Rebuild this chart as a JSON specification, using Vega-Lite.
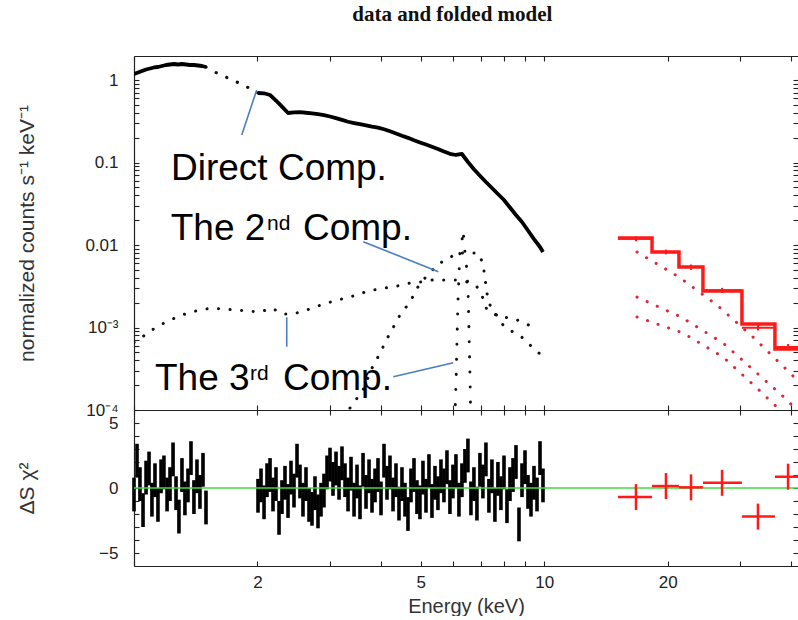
{
"$schema":"https://vega.github.io/schema/vega-lite/v6.json",
"background":"white",
"padding":{"left":16,"top":4,"right":0,"bottom":0},
"title":{"text":"data and folded model","font":"Liberation Serif","fontSize":21,"fontWeight":"bold","color":"#111111","anchor":"middle","offset":30,"dx":45},
"spacing":0,
"bounds":"flush",
"config":{"view":{"stroke":null},"axis":{"grid":false,"domainColor":"#222222","domainWidth":1.2,"tickColor":"#222222","tickWidth":1.1,"labelFont":"Liberation Sans","labelFontSize":17,"labelColor":"#222222","titleFont":"Liberation Sans","titleFontSize":21,"titleFontWeight":"normal","titleColor":"#333333","labelFlush":false,"labelOverlap":false}},
"datasets":{
"spec":[
{"E":1.0,"V":1.182,"g":1},{"E":1.023,"V":1.233,"g":1},{"E":1.046,"V":1.286,"g":1},{"E":1.070,"V":1.341,"g":1},{"E":1.094,"V":1.379,"g":1},{"E":1.119,"V":1.418,"g":1},{"E":1.144,"V":1.437,"g":1},{"E":1.170,"V":1.478,"g":1},{"E":1.197,"V":1.520,"g":1},{"E":1.224,"V":1.541,"g":1},{"E":1.252,"V":1.563,"g":1},{"E":1.280,"V":1.541,"g":1},{"E":1.309,"V":1.563,"g":1},{"E":1.339,"V":1.541,"g":1},{"E":1.369,"V":1.520,"g":1},{"E":1.401,"V":1.520,"g":1},{"E":1.432,"V":1.499,"g":1},{"E":1.465,"V":1.478,"g":1},{"E":1.498,"V":1.437,"g":1},
{"E":2.006,"V":0.696,"g":2},{"E":2.075,"V":0.69,"g":2},{"E":2.146,"V":0.658,"g":2},{"E":2.219,"V":0.564,"g":2},{"E":2.295,"V":0.475,"g":2},{"E":2.374,"V":0.398,"g":2},{"E":2.455,"V":0.406,"g":2},{"E":2.539,"V":0.409,"g":2},{"E":2.626,"V":0.401,"g":2},{"E":2.716,"V":0.395,"g":2},{"E":2.809,"V":0.385,"g":2},{"E":2.905,"V":0.376,"g":2},{"E":3.005,"V":0.361,"g":2},{"E":3.108,"V":0.345,"g":2},{"E":3.214,"V":0.328,"g":2},{"E":3.325,"V":0.312,"g":2},{"E":3.439,"V":0.301,"g":2},{"E":3.556,"V":0.291,"g":2},{"E":3.678,"V":0.282,"g":2},{"E":3.804,"V":0.272,"g":2},{"E":3.934,"V":0.265,"g":2},{"E":4.069,"V":0.253,"g":2},{"E":4.208,"V":0.239,"g":2},{"E":4.352,"V":0.225,"g":2},{"E":4.501,"V":0.211,"g":2},{"E":4.655,"V":0.199,"g":2},{"E":4.815,"V":0.186,"g":2},{"E":4.979,"V":0.175,"g":2},{"E":5.150,"V":0.165,"g":2},{"E":5.326,"V":0.155,"g":2},{"E":5.508,"V":0.146,"g":2},{"E":5.697,"V":0.136,"g":2},{"E":5.892,"V":0.1275,"g":2},{"E":6.094,"V":0.1233,"g":2},{"E":6.302,"V":0.1268,"g":2},{"E":6.518,"V":0.1014,"g":2},{"E":6.741,"V":0.0829,"g":2},{"E":6.972,"V":0.0692,"g":2},{"E":7.211,"V":0.058,"g":2},{"E":7.458,"V":0.0491,"g":2},{"E":7.713,"V":0.0415,"g":2},{"E":7.980,"V":0.0351,"g":2},{"E":8.253,"V":0.0285,"g":2},{"E":8.536,"V":0.0231,"g":2},{"E":8.829,"V":0.019,"g":2},{"E":9.131,"V":0.015,"g":2},{"E":9.444,"V":0.0118,"g":2},{"E":9.768,"V":0.00946,"g":2},{"E":9.933,"V":0.00823,"g":2}
],
"gapmodel":[{"E":1.498,"V":1.437},{"E":1.593,"V":1.216},{"E":1.695,"V":1.057},{"E":1.803,"V":0.920},{"E":1.929,"V":0.778},{"E":2.006,"V":0.696}],
"compA":[{"E":1.0,"V":0.00066},{"E":1.064,"V":0.000811},{"E":1.125,"V":0.000986},{"E":1.197,"V":0.001167},{"E":1.273,"V":0.00134},{"E":1.354,"V":0.0015},{"E":1.448,"V":0.00163},{"E":1.549,"V":0.00172},{"E":1.657,"V":0.00167},{"E":1.773,"V":0.00163},{"E":1.896,"V":0.001585},{"E":2.028,"V":0.00154},{"E":2.17,"V":0.00172},{"E":2.296,"V":0.00146},{"E":2.441,"V":0.00146},{"E":2.597,"V":0.001585},{"E":2.762,"V":0.00177},{"E":2.954,"V":0.00198},{"E":3.144,"V":0.00216},{"E":3.362,"V":0.00234},{"E":3.596,"V":0.00262},{"E":3.825,"V":0.00285},{"E":4.091,"V":0.00301},{"E":4.377,"V":0.00318},{"E":4.709,"V":0.00346},{"E":4.98,"V":0.00356},{"E":5.357,"V":0.00377},{"E":5.73,"V":0.00377},{"E":6.13,"V":0.00377},{"E":6.48,"V":0.00356},{"E":6.86,"V":0.0031},{"E":7.09,"V":0.00228},{"E":7.25,"V":0.00163},{"E":7.8,"V":0.00134},{"E":8.35,"V":0.0013},{"E":8.83,"V":0.00117},{"E":9.45,"V":0.001}],
"compB":[{"E":3.25,"V":0.00008},{"E":3.362,"V":0.0001057},{"E":3.617,"V":0.000175},{"E":3.804,"V":0.000323},{"E":3.934,"V":0.000439},{"E":4.161,"V":0.000767},{"E":4.452,"V":0.00142},{"E":4.709,"V":0.00204},{"E":4.98,"V":0.00346},{"E":5.267,"V":0.00458},{"E":5.479,"V":0.00573},{"E":5.794,"V":0.00677},{"E":6.165,"V":0.008},{"E":6.594,"V":0.008},{"E":6.897,"V":0.008},{"E":7.09,"V":0.00605},{"E":7.17,"V":0.00398},{"E":7.25,"V":0.00262},{"E":7.38,"V":0.00187},{"E":7.94,"V":0.00107},{"E":8.39,"V":0.000882},{"E":8.88,"V":0.000746},{"E":9.34,"V":0.00058},{"E":9.82,"V":0.000465}],
"gauss":[{"E":6.04,"V":0.00005},{"E":6.10,"V":0.000231},{"E":6.13,"V":0.000705},{"E":6.165,"V":0.00216},{"E":6.23,"V":0.008},{"E":6.30,"V":0.01087},{"E":6.34,"V":0.0152},{"E":6.41,"V":0.008},{"E":6.48,"V":0.00498},{"E":6.52,"V":0.00285},{"E":6.556,"V":0.000933},{"E":6.594,"V":0.000251},{"E":6.63,"V":0.00005}],
"redcurves":[{"E":16.84,"V":0.00822,"c":1},{"E":21.31,"V":0.00409,"c":1},{"E":26.38,"V":0.00187,"c":1},{"E":32.28,"V":0.000767,"c":1},{"E":39.31,"V":0.000297,"c":1},{"E":43.2,"V":0.000185,"c":1},
{"E":16.84,"V":0.00234,"c":2},{"E":21.55,"V":0.00134,"c":2},{"E":27.29,"V":0.000649,"c":2},{"E":33.2,"V":0.000273,"c":2},{"E":38.6,"V":0.00014,"c":2},{"E":42.0,"V":0.000092,"c":2},
{"E":16.84,"V":0.00134,"c":3},{"E":21.8,"V":0.000858,"c":3},{"E":27.29,"V":0.000439,"c":3},{"E":33.4,"V":0.000175,"c":3},{"E":36.9,"V":0.000109,"c":3},{"E":39.7,"V":0.000076,"c":3}],
"redmodel":[{"E":15.13,"V":0.01216},{"E":18.32,"V":0.00822},{"E":21.31,"V":0.00541},{"E":24.38,"V":0.00277},{"E":30.35,"V":0.0011},{"E":36.52,"V":0.000548},{"E":44,"V":0.000548}],
"reddata":[{"E":16.74,"Elo":15.13,"Ehi":18.32,"V":0.0119,"Vlo":0.0111,"Vhi":0.0127},{"E":19.81,"Elo":18.32,"Ehi":21.31,"V":0.00825,"Vlo":0.0077,"Vhi":0.0088},{"E":22.8,"Elo":21.31,"Ehi":24.38,"V":0.00542,"Vlo":0.005,"Vhi":0.0058},{"E":27.14,"Elo":24.38,"Ehi":30.35,"V":0.00282,"Vlo":0.00262,"Vhi":0.00302},{"E":33.2,"Elo":30.35,"Ehi":36.52,"V":0.00099,"Vlo":0.00092,"Vhi":0.00107},{"E":39.31,"Elo":36.52,"Ehi":44,"V":0.00058,"Vlo":0.00053,"Vhi":0.00063}],
"lines":[{"E":1.831,"V":0.2154,"E2":1.991,"V2":0.756},{"E":3.622,"V":0.01096,"E2":5.52,"V2":0.00475},{"E":2.357,"V":0.00133,"E2":2.357,"V2":0.000585},{"E":4.288,"V":0.000253,"E2":6.003,"V2":0.000374}],
"bigtext":[{"t":"Direct Comp.","E":1.231,"V":0.0614},{"t":"The 2","E":1.229,"V":0.0115},{"t":"Comp.","E":2.582,"V":0.0115},{"t":"The 3","E":1.125,"V":0.0001748},{"t":"Comp.","E":2.308,"V":0.0001748}],
"suptext":[{"t":"nd","E":2.11,"V":0.0152},{"t":"rd","E":1.918,"V":0.000231}],
"resid":[
{"E":1.000,"r":-0.5,"e":1.3},{"E":1.017,"r":2.1,"e":1.3},{"E":1.034,"r":0.3,"e":1.3},{"E":1.052,"r":-1.7,"e":1.3},{"E":1.070,"r":0.8,"e":1.3},{"E":1.088,"r":1.5,"e":1.3},{"E":1.106,"r":-0.9,"e":1.3},{"E":1.125,"r":0.6,"e":1.3},{"E":1.144,"r":-1.3,"e":1.3},{"E":1.164,"r":0.9,"e":1.3},{"E":1.183,"r":1.2,"e":1.3},{"E":1.204,"r":-0.5,"e":1.3},{"E":1.224,"r":0.3,"e":1.3},{"E":1.245,"r":2.2,"e":1.3},{"E":1.266,"r":-0.4,"e":1.3},{"E":1.287,"r":-2.2,"e":1.3},{"E":1.309,"r":1.0,"e":1.3},{"E":1.331,"r":-0.8,"e":1.3},{"E":1.354,"r":0.2,"e":1.3},{"E":1.377,"r":2.3,"e":1.3},{"E":1.400,"r":-0.7,"e":1.3},{"E":1.424,"r":0.9,"e":1.3},{"E":1.448,"r":-0.3,"e":1.3},{"E":1.473,"r":1.4,"e":1.3},{"E":1.498,"r":-1.5,"e":1.3},
{"E":2.006,"r":-0.6,"e":1.3},{"E":2.040,"r":0.2,"e":1.3},{"E":2.075,"r":-1.1,"e":1.3},{"E":2.110,"r":0.6,"e":1.3},{"E":2.146,"r":1.0,"e":1.3},{"E":2.182,"r":-0.5,"e":1.3},{"E":2.219,"r":0.3,"e":1.3},{"E":2.257,"r":-2.3,"e":1.3},{"E":2.295,"r":-0.7,"e":1.3},{"E":2.334,"r":0.4,"e":1.3},{"E":2.374,"r":-1.0,"e":1.3},{"E":2.414,"r":0.8,"e":1.3},{"E":2.455,"r":-0.2,"e":1.3},{"E":2.497,"r":2.1,"e":1.3},{"E":2.539,"r":0.5,"e":1.3},{"E":2.582,"r":-0.9,"e":1.3},{"E":2.626,"r":0.3,"e":1.3},{"E":2.671,"r":-1.3,"e":1.3},{"E":2.716,"r":-1.6,"e":1.3},{"E":2.762,"r":-0.4,"e":1.3},{"E":2.809,"r":-1.8,"e":1.3},{"E":2.857,"r":-0.9,"e":1.3},{"E":2.905,"r":-0.2,"e":1.3},{"E":2.955,"r":1.2,"e":1.3},{"E":3.005,"r":1.8,"e":1.3},{"E":3.056,"r":0.7,"e":1.3},{"E":3.108,"r":1.5,"e":1.3},{"E":3.161,"r":0.4,"e":1.3},{"E":3.214,"r":1.9,"e":1.3},{"E":3.269,"r":0.6,"e":1.3},{"E":3.325,"r":-0.5,"e":1.3},{"E":3.381,"r":1.1,"e":1.3},{"E":3.439,"r":-0.9,"e":1.3},{"E":3.497,"r":0.5,"e":1.3},{"E":3.556,"r":-1.1,"e":1.3},{"E":3.617,"r":1.4,"e":1.3},{"E":3.678,"r":-0.3,"e":1.3},{"E":3.741,"r":0.9,"e":1.3},{"E":3.804,"r":-0.6,"e":1.3},{"E":3.869,"r":0.2,"e":1.3},{"E":3.934,"r":1.0,"e":1.3},{"E":4.001,"r":-0.8,"e":1.3},{"E":4.069,"r":2.1,"e":1.3},{"E":4.138,"r":0.4,"e":1.3},{"E":4.208,"r":1.2,"e":1.3},{"E":4.280,"r":-0.5,"e":1.3},{"E":4.352,"r":0.6,"e":1.3},{"E":4.426,"r":-1.2,"e":1.3},{"E":4.501,"r":0.3,"e":1.3},{"E":4.578,"r":-0.9,"e":1.3},{"E":4.655,"r":-2.0,"e":1.3},{"E":4.734,"r":0.2,"e":1.3},{"E":4.815,"r":1.0,"e":1.3},{"E":4.896,"r":-0.7,"e":1.3},{"E":4.979,"r":-1.1,"e":1.3},{"E":5.064,"r":0.8,"e":1.3},{"E":5.150,"r":-0.6,"e":1.3},{"E":5.237,"r":1.3,"e":1.3},{"E":5.326,"r":-1.0,"e":1.3},{"E":5.417,"r":0.4,"e":1.3},{"E":5.508,"r":-0.4,"e":1.3},{"E":5.602,"r":0.9,"e":1.3},{"E":5.697,"r":0.2,"e":1.3},{"E":5.794,"r":1.6,"e":1.3},{"E":5.892,"r":-0.7,"e":1.3},{"E":5.992,"r":0.5,"e":1.3},{"E":6.094,"r":1.3,"e":1.3},{"E":6.197,"r":-0.9,"e":1.3},{"E":6.302,"r":0.6,"e":1.3},{"E":6.409,"r":1.7,"e":1.3},{"E":6.518,"r":2.5,"e":1.3},{"E":6.629,"r":-0.8,"e":1.3},{"E":6.741,"r":0.3,"e":1.3},{"E":6.856,"r":-1.2,"e":1.3},{"E":6.972,"r":1.4,"e":1.3},{"E":7.090,"r":0.5,"e":1.3},{"E":7.211,"r":2.2,"e":1.3},{"E":7.333,"r":-0.6,"e":1.3},{"E":7.458,"r":0.9,"e":1.3},{"E":7.584,"r":-1.3,"e":1.3},{"E":7.713,"r":0.7,"e":1.3},{"E":7.844,"r":-0.4,"e":1.3},{"E":7.980,"r":1.2,"e":1.3},{"E":8.115,"r":-1.4,"e":1.3},{"E":8.253,"r":0.3,"e":1.3},{"E":8.394,"r":1.0,"e":1.3},{"E":8.536,"r":2.0,"e":1.3},{"E":8.681,"r":-2.8,"e":1.3},{"E":8.829,"r":0.6,"e":1.3},{"E":8.979,"r":1.6,"e":1.3},{"E":9.131,"r":-0.3,"e":1.3},{"E":9.286,"r":-0.9,"e":1.3},{"E":9.444,"r":0.4,"e":1.3},{"E":9.605,"r":-0.5,"e":1.3},{"E":9.768,"r":2.3,"e":1.3},{"E":9.933,"r":0.2,"e":1.3}
],
"redresid":[{"E":16.74,"Elo":15.13,"Ehi":18.32,"r":-0.7,"lo":-1.7,"hi":0.3},{"E":19.81,"Elo":18.32,"Ehi":21.31,"r":0.15,"lo":-0.85,"hi":1.15},{"E":22.8,"Elo":21.31,"Ehi":24.38,"r":0.05,"lo":-0.95,"hi":1.05},{"E":27.14,"Elo":24.38,"Ehi":30.35,"r":0.4,"lo":-0.6,"hi":1.4},{"E":33.2,"Elo":30.35,"Ehi":36.52,"r":-2.2,"lo":-3.2,"hi":-1.2},{"E":39.31,"Elo":36.52,"Ehi":44,"r":0.87,"lo":-0.13,"hi":1.87}]
},
"vconcat":[
{
"width":664,"height":354,
"resolve":{"axis":{"x":"independent","y":"independent"}},
"layer":[
{"data":{"name":"compA"},"mark":{"type":"line","color":"#111111","strokeWidth":3,"strokeCap":"round","strokeDash":[0.1,11.5],"clip":true},
"encoding":{"x":{"field":"E","type":"quantitative","scale":{"type":"log","domain":[1,41.57],"nice":false},"axis":null},"y":{"field":"V","type":"quantitative","scale":{"type":"log","domain":[0.0001,1.954],"nice":false},"axis":null}}},
{"data":{"name":"compB"},"mark":{"type":"line","color":"#111111","strokeWidth":3,"strokeCap":"round","strokeDash":[0.1,11.5],"clip":true},
"encoding":{"x":{"field":"E","type":"quantitative","scale":{"type":"log","domain":[1,41.57],"nice":false},"axis":null},"y":{"field":"V","type":"quantitative","scale":{"type":"log","domain":[0.0001,1.954],"nice":false},"axis":null}}},
{"data":{"name":"gauss"},"mark":{"type":"line","color":"#111111","strokeWidth":3,"strokeCap":"round","strokeDash":[0.1,15],"clip":true},
"encoding":{"x":{"field":"E","type":"quantitative","scale":{"type":"log","domain":[1,41.57],"nice":false},"axis":null},"y":{"field":"V","type":"quantitative","scale":{"type":"log","domain":[0.0001,1.954],"nice":false},"axis":null}}},
{"data":{"name":"gapmodel"},"mark":{"type":"line","color":"#111111","strokeWidth":3.2,"strokeCap":"round","strokeDash":[0.1,11.5],"clip":true},
"encoding":{"x":{"field":"E","type":"quantitative","scale":{"type":"log","domain":[1,41.57],"nice":false},
"axis":{"orient":"top","values":[1,2,3,4,5,6,7,8,9,10,20,30,40],"labels":false,"title":null,"tickSize":-5,"minExtent":0,"maxExtent":0,"encode":{"ticks":{"update":{"y2":{"signal":"datum.value==1||datum.value==10?10:5"}}}}}},
"y":{"field":"V","type":"quantitative","scale":{"type":"log","domain":[0.0001,1.954],"nice":false},
"axis":{"orient":"right","values":[0.0001,0.0002,0.0003,0.0004,0.0005,0.0006,0.0007,0.0008,0.0009,0.001,0.002,0.003,0.004,0.005,0.006,0.007,0.008,0.009,0.01,0.02,0.03,0.04,0.05,0.06,0.07,0.08,0.09,0.1,0.2,0.3,0.4,0.5,0.6,0.7,0.8,0.9,1],"labels":false,"title":null,"domain":false,"tickSize":-5,"minExtent":0,"maxExtent":0,"encode":{"ticks":{"update":{"x2":{"signal":"abs(log(datum.value)/LN10-round(log(datum.value)/LN10))<0.01?-10:-5"}}}}}}}},
{"data":{"name":"redcurves"},"mark":{"type":"line","color":"#d8283c","strokeWidth":3,"strokeCap":"round","strokeDash":[0.1,11],"clip":true},
"encoding":{"x":{"field":"E","type":"quantitative","scale":{"type":"log","domain":[1,41.57],"nice":false},"axis":null},"y":{"field":"V","type":"quantitative","scale":{"type":"log","domain":[0.0001,1.954],"nice":false},"axis":null},"detail":{"field":"c"}}},
{"data":{"name":"redmodel"},"mark":{"type":"line","interpolate":"step-after","color":"#ff1a1a","strokeWidth":3.5,"clip":true},
"encoding":{"x":{"field":"E","type":"quantitative","scale":{"type":"log","domain":[1,41.57],"nice":false},"axis":null},"y":{"field":"V","type":"quantitative","scale":{"type":"log","domain":[0.0001,1.954],"nice":false},"axis":null}}},
{"data":{"name":"reddata"},"mark":{"type":"rule","color":"#ff1a1a","strokeWidth":2,"clip":true},
"encoding":{"x":{"field":"Elo","type":"quantitative","scale":{"type":"log","domain":[1,41.57],"nice":false},"axis":null},"x2":{"field":"Ehi"},"y":{"field":"V","type":"quantitative","scale":{"type":"log","domain":[0.0001,1.954],"nice":false},"axis":null}}},
{"data":{"name":"reddata"},"mark":{"type":"rule","color":"#ff1a1a","strokeWidth":2,"clip":true},
"encoding":{"x":{"field":"E","type":"quantitative","scale":{"type":"log","domain":[1,41.57],"nice":false},"axis":null},"y":{"field":"Vlo","type":"quantitative","scale":{"type":"log","domain":[0.0001,1.954],"nice":false},"axis":null},"y2":{"field":"Vhi"}}},
{"data":{"name":"spec"},"mark":{"type":"line","color":"#000000","strokeWidth":3.8,"strokeJoin":"round","clip":true},
"encoding":{"x":{"field":"E","type":"quantitative","scale":{"type":"log","domain":[1,41.57],"nice":false},
"axis":{"orient":"bottom","values":[1,2,3,4,5,6,7,8,9,10,20,30,40],"labels":false,"title":null,"tickSize":-5,"minExtent":0,"maxExtent":0,"encode":{"ticks":{"update":{"y2":{"signal":"datum.value==1||datum.value==10?-10:-5"}}}}}},
"y":{"field":"V","type":"quantitative","scale":{"type":"log","domain":[0.0001,1.954],"nice":false},
"axis":{"orient":"left","values":[0.0001,0.0002,0.0003,0.0004,0.0005,0.0006,0.0007,0.0008,0.0009,0.001,0.002,0.003,0.004,0.005,0.006,0.007,0.008,0.009,0.01,0.02,0.03,0.04,0.05,0.06,0.07,0.08,0.09,0.1,0.2,0.3,0.4,0.5,0.6,0.7,0.8,0.9,1],"labelExpr":"datum.value==1?'1':datum.value==0.1?'0.1':datum.value==0.01?'0.01':datum.value==0.001?'10⁻³':datum.value==0.0001?'10⁻⁴':''","title":"normalized counts s⁻¹ keV⁻¹","titlePadding":21,"labelPadding":21,"tickSize":-5,"minExtent":76,"maxExtent":76,"encode":{"ticks":{"update":{"x2":{"signal":"abs(log(datum.value)/LN10-round(log(datum.value)/LN10))<0.01?10:5"}}}}}},
"detail":{"field":"g"}}},
{"data":{"name":"lines"},"mark":{"type":"rule","color":"#4a7ebf","strokeWidth":1.6},
"encoding":{"x":{"field":"E","type":"quantitative","scale":{"type":"log","domain":[1,41.57],"nice":false},"axis":null},"x2":{"field":"E2"},"y":{"field":"V","type":"quantitative","scale":{"type":"log","domain":[0.0001,1.954],"nice":false},"axis":null},"y2":{"field":"V2"}}},
{"data":{"name":"bigtext"},"mark":{"type":"text","align":"left","baseline":"alphabetic","font":"Liberation Sans","fontSize":37,"color":"#000000"},
"encoding":{"x":{"field":"E","type":"quantitative","scale":{"type":"log","domain":[1,41.57],"nice":false},"axis":null},"y":{"field":"V","type":"quantitative","scale":{"type":"log","domain":[0.0001,1.954],"nice":false},"axis":null},"text":{"field":"t"}}},
{"data":{"name":"suptext"},"mark":{"type":"text","align":"left","baseline":"alphabetic","font":"Liberation Sans","fontSize":21,"color":"#000000"},
"encoding":{"x":{"field":"E","type":"quantitative","scale":{"type":"log","domain":[1,41.57],"nice":false},"axis":null},"y":{"field":"V","type":"quantitative","scale":{"type":"log","domain":[0.0001,1.954],"nice":false},"axis":null},"text":{"field":"t"}}}
]
},
{
"width":664,"height":156,
"resolve":{"axis":{"x":"independent","y":"independent"}},
"layer":[
{"data":{"name":"resid"},"mark":{"type":"errorbar","ticks":false,"thickness":3.6,"color":"#000000"},
"encoding":{"x":{"field":"E","type":"quantitative","scale":{"type":"log","domain":[1,41.57],"nice":false},
"axis":{"orient":"bottom","values":[1,2,3,4,5,6,7,8,9,10,20,30,40],"labelExpr":"datum.value==2?'2':datum.value==5?'5':datum.value==10?'10':datum.value==20?'20':''","labelPadding":13,"title":"Energy (keV)","titleFontSize":20,"titlePadding":6,"tickSize":-5,"encode":{"ticks":{"update":{"y2":{"signal":"datum.value==1||datum.value==10?-10:-5"}}}}}},
"y":{"field":"r","type":"quantitative","scale":{"domain":[-6,6],"nice":false,"zero":false},
"axis":{"orient":"left","values":[-5,-4,-3,-2,-1,0,1,2,3,4,5],"labelExpr":"datum.value==5?'5':datum.value==0?'0':datum.value==-5?'−5':''","title":"ΔS χ²","titlePadding":21,"labelPadding":21,"tickSize":-5,"minExtent":76,"maxExtent":76,"encode":{"ticks":{"update":{"x2":{"signal":"datum.value%5==0?10:5"}}}}}},
"yError":{"field":"e"}}},
{"data":{"values":[{}]},"mark":{"type":"rule","color":"#3fdc3f","strokeWidth":1.5},
"encoding":{"y":{"datum":0,"type":"quantitative","scale":{"domain":[-6,6],"nice":false,"zero":false},"axis":null}}},
{"data":{"name":"redresid"},"mark":{"type":"rule","color":"#ff1a1a","strokeWidth":2.5,"clip":true},
"encoding":{"x":{"field":"Elo","type":"quantitative","scale":{"type":"log","domain":[1,41.57],"nice":false},
"axis":{"orient":"top","values":[1,2,3,4,5,6,7,8,9,10,20,30,40],"labels":false,"title":null,"tickSize":-5,"minExtent":0,"maxExtent":0,"encode":{"ticks":{"update":{"y2":{"signal":"datum.value==1||datum.value==10?10:5"}}}}}},
"x2":{"field":"Ehi"},
"y":{"field":"r","type":"quantitative","scale":{"domain":[-6,6],"nice":false,"zero":false},
"axis":{"orient":"right","values":[-5,-4,-3,-2,-1,0,1,2,3,4,5],"labels":false,"title":null,"domain":false,"tickSize":-5,"minExtent":0,"maxExtent":0,"encode":{"ticks":{"update":{"x2":{"signal":"datum.value%5==0?-10:-5"}}}}}}}},
{"data":{"name":"redresid"},"mark":{"type":"rule","color":"#ff1a1a","strokeWidth":2.5,"clip":true},
"encoding":{"x":{"field":"E","type":"quantitative","scale":{"type":"log","domain":[1,41.57],"nice":false},"axis":null},"y":{"field":"lo","type":"quantitative","scale":{"domain":[-6,6],"nice":false,"zero":false},"axis":null},"y2":{"field":"hi"}}}
]
}
]
}
